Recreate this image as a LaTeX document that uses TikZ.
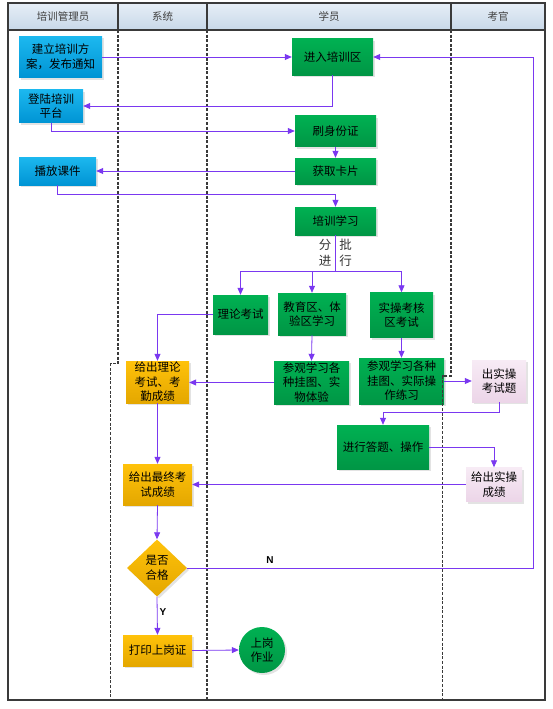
\documentclass[tikz,border=0pt]{standalone}
\usepackage{fontspec}
\newfontfamily\cjk{Noto Sans CJK SC}
\newfontfamily\latinsf{Liberation Sans}
\usetikzlibrary{arrows.meta,calc,shapes.geometric,shadows}

\definecolor{bluT}{HTML}{1CB8EF}
\definecolor{bluB}{HTML}{0094D4}
\definecolor{grnT}{HTML}{00B152}
\definecolor{grnB}{HTML}{009645}
\definecolor{orgT}{HTML}{FFC20A}
\definecolor{orgB}{HTML}{E4A700}
\definecolor{pnkT}{HTML}{F7EBF5}
\definecolor{pnkB}{HTML}{ECD5E8}
\definecolor{hdrT}{HTML}{E6EEF6}
\definecolor{hdrB}{HTML}{C8D8E9}
\definecolor{laneC}{HTML}{3A3A3A}
\definecolor{flowC}{HTML}{7A38F0}

\begin{document}
\begin{tikzpicture}[
  x=1pt, y=-1pt,
  font=\cjk\fontsize{11.5}{14.5}\selectfont,
  blk/.style={align=center, inner sep=1pt, text=black,
    drop shadow={shadow xshift=2pt, shadow yshift=-2pt, fill=black!22}},
  bluebox/.style={blk, top color=bluT, bottom color=bluB},
  grnbox/.style={blk, top color=grnT, bottom color=grnB},
  orgbox/.style={blk, top color=orgT, bottom color=orgB},
  pnkbox/.style={blk, top color=pnkT, bottom color=pnkB},
  hdr/.style={draw=laneC, line width=1.4pt, top color=hdrT, bottom color=hdrB,
    text=black!75, font=\cjk\fontsize{10.5}{12}\selectfont,
    minimum height=27pt, inner sep=0pt},
  lane/.style={draw=laneC, line width=1.7pt, dash pattern=on 3pt off 1.6pt},
  flow/.style={draw=flowC, line width=0.8pt, -{Triangle[length=7pt, width=6pt]}},
  lbl/.style={font=\cjk\fontsize{12.5}{16}\selectfont, text=black!80, align=center, inner sep=0pt},
  yn/.style={font=\latinsf\bfseries\fontsize{10}{12}\selectfont, inner sep=0pt},
]
\useasboundingbox (0,0) rectangle (553,709);

% ---------------- lane headers ----------------
\node[hdr, minimum width=110pt] (hA) at (63,16.5)   {培训管理员};
\node[hdr, minimum width=89pt]  (hB) at (162.5,16.5) {系统};
\node[hdr, minimum width=244pt] (hC) at (329,16.5)   {学员};
\node[hdr, minimum width=94pt]  (hD) at (498,16.5)   {考官};

% ---------------- 培训管理员 ----------------
\node[bluebox, minimum width=83pt, minimum height=41pt] (jianli) at (60.5,57) {建立培训方\\案，发布通知};
\node[bluebox, minimum width=64pt, minimum height=33pt] (denglu) at (51,106) {登陆培训\\平台};
\node[bluebox, minimum width=77pt, minimum height=28pt] (bofang) at (57.5,171) {播放课件};

% ---------------- 学员 ----------------
\node[grnbox, minimum width=81pt, minimum height=36pt] (jinru)  at (332.5,57)  {进入培训区};
\node[grnbox, minimum width=81pt, minimum height=31pt] (shua)   at (335.5,131) {刷身份证};
\node[grnbox, minimum width=81pt, minimum height=26pt] (huoqu)  at (335.5,171) {获取卡片};
\node[grnbox, minimum width=81pt, minimum height=28pt] (peixun) at (335.5,221) {培训学习};
\node[lbl] (fen) at (325,253) {分\\进};
\node[lbl] (pi)  at (345.5,253) {批\\行};

\node[grnbox, minimum width=55pt, minimum height=39pt] (lilun)  at (240.5,314.5) {理论考试};
\node[grnbox, minimum width=68pt, minimum height=42pt] (jiaoyu) at (312,314)     {教育区、体\\验区学习};
\node[grnbox, minimum width=63pt, minimum height=45pt] (shicao) at (401.5,315)   {实操考核\\区考试};
\node[grnbox, minimum width=75pt, minimum height=43pt] (canguanA) at (311.5,382.5) {参观学习各\\种挂图、实\\物体验};
\node[grnbox, minimum width=85pt, minimum height=46pt] (canguanB) at (401.5,381)   {参观学习各种\\挂图、实际操\\作练习};
\node[grnbox, minimum width=92pt, minimum height=44pt] (jinxing)  at (383,447)     {进行答题、操作};
\node[grnbox, circle, minimum size=46pt, inner sep=0pt] (shanggang) at (262,650) {上岗\\作业};

% ---------------- 考官 ----------------
\node[pnkbox, minimum width=54pt, minimum height=42pt] (chuti)   at (499,381)   {出实操\\考试题};
\node[pnkbox, minimum width=56pt, minimum height=34pt] (geishi)  at (494,484.5) {给出实操\\成绩};

% ---------------- 成绩 / 判定 ----------------
\node[orgbox, minimum width=63pt, minimum height=42pt] (geiA)   at (157.5,382)   {给出理论\\考试、考\\勤成绩};
\node[orgbox, minimum width=69pt, minimum height=41pt] (geiB)   at (157.5,484.5) {给出最终考\\试成绩};
\node[orgbox, diamond, minimum width=60pt, minimum height=57pt, inner sep=0pt] (shifou) at (157,568) {是否\\合格};
\node[orgbox, minimum width=69pt, minimum height=31pt] (dayin)  at (157.5,650.5) {打印上岗证};

% ---------------- lane dividers + frame ----------------
\draw[lane] (118,30) -- (118,363.5) -- (110.5,363.5) -- (110.5,700);
\draw[lane] (207,30) -- (207,700);
\draw[lane] (451,30) -- (451,376) -- (442.5,376) -- (442.5,700);
\draw[laneC, line width=2pt] (8,3) rectangle (545,700);

% ---------------- connectors ----------------
\draw[flow] (jianli.east) -- (jinru.west);
\draw[flow] (jinru.south) |- (denglu.east);
\draw[flow] (denglu.south) |- (shua.west);
\draw[flow] (shua.south) -- (huoqu.north);
\draw[flow] (huoqu.west) -- (bofang.east);
\draw[flow] (bofang.south) |- ($(peixun.north)+(0,-12)$) -- (peixun.north);

\coordinate (split) at (335.5,271);
\draw[flow, -] (peixun.south) -- (split);
\foreach \n in {lilun,jiaoyu,shicao}
  \draw[flow] (split) -| (\n.north);

\draw[flow] (lilun.west) -| (geiA.north);
\draw[flow] (jiaoyu.south) -- (canguanA.north);
\draw[flow] (shicao.south) -- (canguanB.north);
\draw[flow] (canguanA.west) -- (canguanA.west -| geiA.east);
\draw[flow] (canguanB.east) -- (canguanB.east -| chuti.west);
\draw[flow] (chuti.south) -- ++(0,10) -| (jinxing.north);
\draw[flow] (jinxing.east) -| (geishi.north);
\draw[flow] (geishi.west) -- (geiB.east);
\draw[flow] (geiA.south) -- (geiB.north);
\draw[flow] (geiB.south) -- (shifou.north);

% N: back to 进入培训区, Y: certificate
\coordinate (back) at (533,568);
\draw[flow] (shifou.east) -- (back) |- (jinru.east);
\node[yn] (nlab) at (270,560) {N};
\draw[flow] (shifou.south) -- (dayin.north);
\node[yn] (ylab) at (163,612) {Y};
\draw[flow] (dayin.east) -- (shanggang.west);

\end{tikzpicture}
\end{document}
